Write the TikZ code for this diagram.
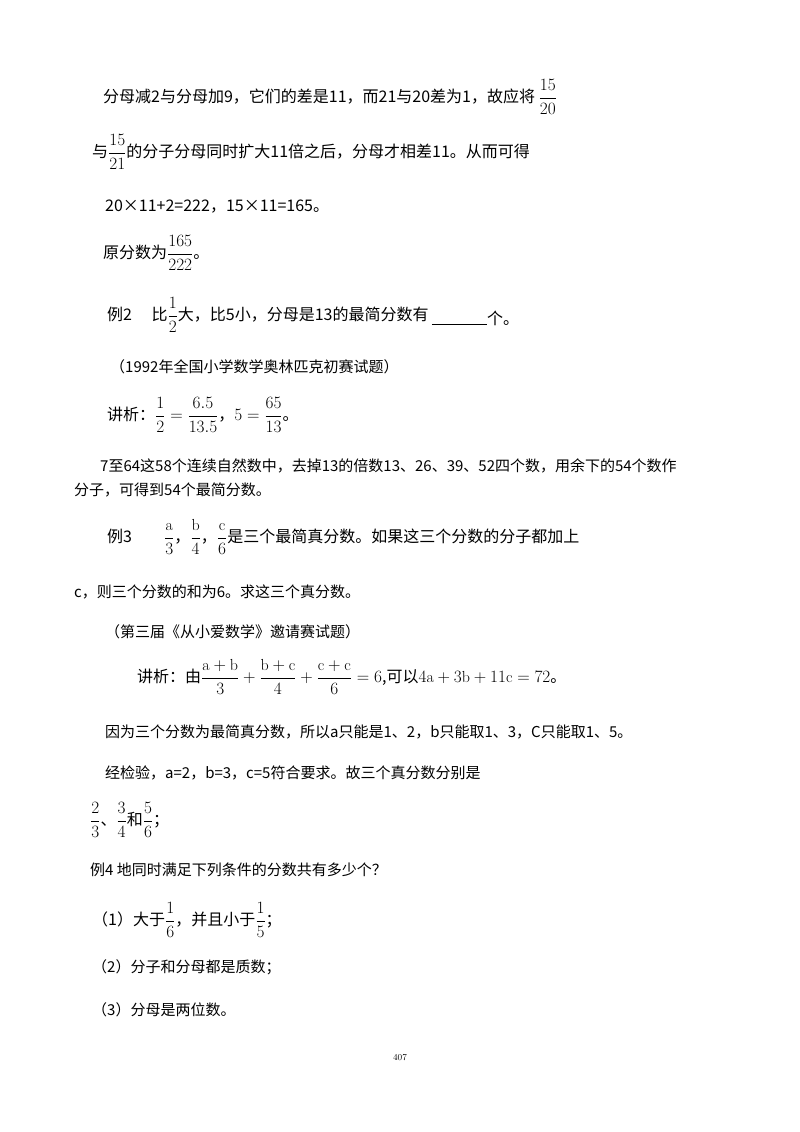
\documentclass[tikz,border=0pt]{standalone}
\usepackage{amsmath}
\usepackage{fontspec}
\newfontfamily\cjk{Noto Sans CJK SC}
\begin{document}
\begin{tikzpicture}[x=1pt,y=-1pt,
  t/.style={anchor=west,inner sep=0pt,font=\cjk\fontsize{16}{19}\selectfont},
  s/.style={anchor=west,inner sep=0pt,font=\cjk\fontsize{15}{18}\selectfont}]
\useasboundingbox[fill=white] (0,0) rectangle (800,1132);
\node[t] (l1) at (103,97) {分母减2与分母加9，它们的差是11，而21与20差为1，故应将 \(\dfrac{15}{20}\)};
\node[t] (l2) at (92,152) {与\(\dfrac{15}{21}\)的分子分母同时扩大11倍之后，分母才相差11。从而可得};
\node[t] (l3) at (105,207) {20×11+2=222，15×11=165。};
\node[t] (l4) at (103,253) {原分数为\(\dfrac{165}{222}\)。};
\node[t] (l5) at (107,315) {例2\quad\ 比\(\dfrac12\)大，比5小，分母是13的最简分数有};
\draw (l5.east) ++(3,9) coordinate (u1) -- ++(55,0) coordinate (u2);
\node[t,anchor=south west] (l5b) at ([yshift=-2pt]u2) {个。};
\node[s] (l6) at (110,367) {（1992年全国小学数学奥林匹克初赛试题）};
\node[t] (l7) at (107,415) {讲析：\(\dfrac12=\dfrac{6.5}{13.5}\)，\(5=\dfrac{65}{13}\)。};
\node[s] (l8) at (100,466) {7至64这58个连续自然数中，去掉13的倍数13、26、39、52四个数，用余下的54个数作};
\node[s] (l9) at (74,490) {分子，可得到54个最简分数。};
\node[t] (l10) at (107,537) {例3\qquad \(\dfrac{\mathrm a}{3}\)，\(\dfrac{\mathrm b}{4}\)，\(\dfrac{\mathrm c}{6}\)是三个最简真分数。如果这三个分数的分子都加上};
\node[s] (l11) at (74,592) {c，则三个分数的和为6。求这三个真分数。};
\node[s] (l12) at (105,632) {（第三届《从小爱数学》邀请赛试题）};
\node[t] (l13) at (137,677) {讲析：由\(\dfrac{\mathrm{a+b}}{3}+\dfrac{\mathrm{b+c}}{4}+\dfrac{\mathrm{c+c}}{6}=6\),可以\(4\mathrm a+3\mathrm b+11\mathrm c=72\)。};
\node[s] (l14) at (105,732) {因为三个分数为最简真分数，所以a只能是1、2，b只能取1、3，C只能取1、5。};
\node[s] (l15) at (105,773) {经检验，a=2，b=3，c=5符合要求。故三个真分数分别是};
\node[t] (l16) at (90,820) {\(\dfrac23\)、\(\dfrac34\)和\(\dfrac56\)；};
\node[s] (l17) at (90,870) {例4 地同时满足下列条件的分数共有多少个？};
\node[t] (l18) at (92,920) {（1）大于\(\dfrac16\)，并且小于\(\dfrac15\)；};
\node[s] (l19) at (92,967) {（2）分子和分母都是质数；};
\node[s] (l20) at (92,1010) {（3）分母是两位数。};
\node[inner sep=0pt,font=\fontsize{9}{10}\selectfont] (pg) at (400,1058) {407};
\end{tikzpicture}
\end{document}
